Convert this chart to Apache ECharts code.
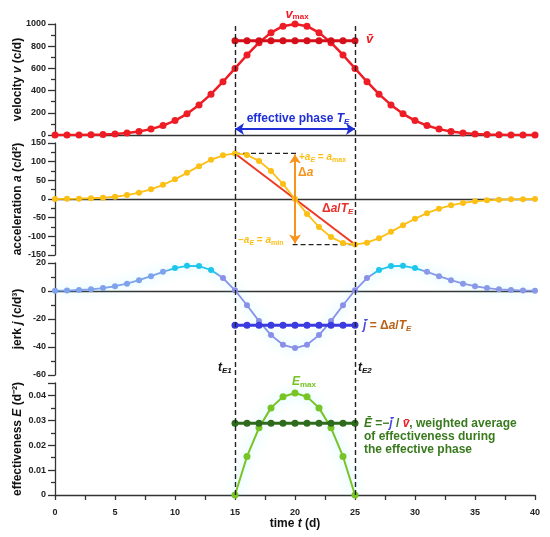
<!DOCTYPE html>
<html>
<head>
<meta charset="utf-8">
<script src="https://cdn.jsdelivr.net/npm/echarts@6/dist/echarts.min.js"></script>
<style>
  html, body { margin: 0; padding: 0; background: #fff; }
  #chart { width: 550px; height: 537px; }
</style>
</head>
<body>
<div id="chart"></div>
<script>
var days = [];
for (var d = 0; d <= 40; d++) days.push(d);

var velocity = [0, 1, 1, 3, 5, 10, 18, 32, 53, 85, 130, 191, 271, 368, 480, 600, 721, 832, 922, 980, 1000,
  980, 922, 832, 721, 600, 480, 368, 271, 191, 130, 85, 53, 32, 18, 10, 5, 3, 1, 1, 0];
var acceleration = [0, 0.5, 1, 2, 3.5, 6, 10.5, 17, 26, 38, 53, 70, 88, 105, 117, 122, 118, 102, 75, 40, 0,
  -40, -75, -102, -118, -122, -117, -105, -88, -70, -53, -38, -26, -17, -10.5, -6, -3.5, -2, -1, -0.5, 0];
var jerk = [0.2, 0.3, 0.7, 1.2, 2.1, 3.4, 5.2, 7.7, 10.6, 13.7, 16.4, 18, 17.8, 15, 9.2, 0.5, -10.2, -21.5, -31.5, -38.4, -40.8,
  -38.4, -31.5, -21.5, -10.2, 0.5, 9.2, 15, 17.8, 18, 16.4, 13.7, 10.6, 7.7, 5.2, 3.4, 2.1, 1.2, 0.7, 0.3, 0.2];
var phaseDays = [15, 16, 17, 18, 19, 20, 21, 22, 23, 24, 25];
var effectiveness = [0, 0.0155, 0.027, 0.035, 0.0395, 0.041, 0.0395, 0.035, 0.027, 0.0155, 0];
var vMean = 850;
var jMean = -24.5;
var eMean = 0.0288;
var aMax = 122;
var aMin = -122;
var phaseStart = 15;
var phaseEnd = 25;

var FONT = "'Liberation Sans', Arial, sans-serif";

function pairs(xs, ys) {
  return xs.map(function (x, i) { return [x, ys[i]]; });
}
function flat(xs, v) {
  return xs.map(function (x) { return [x, v]; });
}

var grids = [
  { left: 55, right: 15, top: 24, height: 111 },
  { left: 55, right: 15, top: 143, height: 112 },
  { left: 55, right: 15, top: 263, height: 112 },
  { left: 55, right: 15, top: 383, height: 112 },
  { left: 55, right: 15, top: 24, height: 471 }
];

var nameStyle = {
  fontSize: 12, fontWeight: "bold", color: "#111", fontFamily: FONT,
  rich: { i: { fontSize: 12, fontWeight: "bold", fontStyle: "italic", color: "#111", fontFamily: FONT } }
};

function xAxisFor(i, full) {
  return {
    type: "value", gridIndex: i, min: 0, max: 40, interval: 5,
    axisLine: { show: i < 4, onZero: true, lineStyle: { color: "#333", width: 1.3 } },
    axisTick: { show: full, length: 5, lineStyle: { color: "#333", width: 1.3 } },
    minorTick: { show: full, splitNumber: 2, length: 5, lineStyle: { color: "#333", width: 1.3 } },
    axisLabel: { show: full, fontSize: 9, fontWeight: "bold", color: "#222", fontFamily: FONT, margin: 13 },
    splitLine: { show: false },
    name: full ? "time {i|t} (d)" : "",
    nameLocation: "middle", nameGap: 23, nameMoveOverlap: false,
    nameTextStyle: nameStyle
  };
}

function yAxisFor(i, min, max, interval, name) {
  return {
    type: "value", gridIndex: i, min: min, max: max, interval: interval,
    axisLine: { show: true, onZero: false, lineStyle: { color: "#333", width: 1.3 } },
    axisTick: { show: true, length: 7, lineStyle: { color: "#333", width: 1.3 } },
    minorTick: { show: true, splitNumber: 2, length: 4, lineStyle: { color: "#333", width: 1.3 } },
    axisLabel: {
      fontSize: 9, fontWeight: "bold", color: "#222", fontFamily: FONT, margin: 9,
      formatter: function (v) {
        if (Math.abs(v / interval - Math.round(v / interval)) > 1e-6) return "";
        return String(Math.round(v * 1000) / 1000);
      }
    },
    splitLine: { show: false },
    name: name, nameLocation: "middle", nameGap: 31, nameRotate: 90, nameMoveOverlap: false,
    nameTextStyle: nameStyle
  };
}

function dots(name, x, y, data, color, size, width, extra) {
  var s = {
    name: name, type: "line", xAxisIndex: x, yAxisIndex: y, data: data,
    symbol: "circle", symbolSize: size, showSymbol: true,
    lineStyle: { color: color, width: width },
    itemStyle: { color: color },
    emphasis: { disabled: true }, silent: true
  };
  for (var k in extra) s[k] = extra[k];
  return s;
}

var glow = "rgba(90,235,255,0.6)";

var series = [
  dots("velocity", 0, 0, pairs(days, velocity), "#ee1c25", 7, 2.5, {
    markLine: {
      silent: true, symbol: ["arrow", "arrow"], symbolSize: 9,
      label: { show: false },
      lineStyle: { color: "#1f2fd6", width: 2, type: "solid" },
      data: [[{ coord: [phaseStart, 55] }, { coord: [phaseEnd, 55] }]]
    }
  }),
  dots("vMean", 0, 0, flat(phaseDays, vMean), "#d40f1a", 7, 3),

  dots("slope", 1, 1, [[phaseStart, aMax], [phaseEnd, aMin]], "#ee3a24", 0, 2, {
    symbol: "none",
    markLine: {
      silent: true, symbol: ["arrow", "arrow"], symbolSize: 9,
      label: { show: false },
      lineStyle: { color: "#f7941d", width: 2, type: "solid" },
      data: [[{ coord: [20, 119] }, { coord: [20, -119] }]]
    }
  }),
  dots("aTop", 1, 1, [[phaseStart, aMax], [20.2, aMax]], "#222", 0, 1.3, { symbol: "none", lineStyle: { color: "#222", width: 1.3, type: [5, 3] } }),
  dots("aBottom", 1, 1, [[19.8, aMin], [phaseEnd, aMin]], "#222", 0, 1.3, { symbol: "none", lineStyle: { color: "#222", width: 1.3, type: [5, 3] } }),
  dots("acceleration", 1, 1, pairs(days, acceleration), "#fbbf16", 6, 1.8),

  dots("jerk", 2, 2, pairs(days, jerk), "#8a90e8", 6, 1.8, {
    lineStyle: { width: 1.8, shadowColor: glow, shadowBlur: 12 }
  }),
  dots("jMean", 2, 2, flat(phaseDays, jMean), "#3b3be0", 7, 3),

  dots("effectiveness", 3, 3, pairs(phaseDays, effectiveness), "#78c427", 7, 2, {
    lineStyle: { color: "#78c427", width: 2, shadowColor: glow, shadowBlur: 12 }
  }),
  dots("eMean", 3, 3, flat(phaseDays, eMean), "#2f6b1d", 7, 3),

  {
    type: "line", xAxisIndex: 4, yAxisIndex: 4, data: [], z: 5, silent: true,
    markLine: {
      silent: true, symbol: "none", label: { show: false },
      lineStyle: { color: "#222", width: 1.4, type: [5, 3] },
      data: [{ xAxis: phaseStart }, { xAxis: phaseEnd }]
    }
  }
];

var chart = echarts.init(document.getElementById("chart"));

function txt(x, y, text, rich, align) {
  return {
    type: "text", x: x, y: y, silent: true, z: 10,
    style: { text: text, rich: rich, align: align || "left", verticalAlign: "middle", font: "bold 12px " + FONT }
  };
}
function st(color, size, italic, vAlign) {
  var o = { fill: color, fontSize: size, fontWeight: "bold", fontFamily: FONT, fontStyle: italic ? "italic" : "normal", lineHeight: 14 };
  if (vAlign) o.verticalAlign = vAlign;
  return o;
}

var red = "#ee1c25", yel = "#fbbf16", org = "#f7941d", grn = "#3a7a1e", lgrn = "#78c427", blue = "#1f2fd6";

var graphics = [
  txt(297, 14, "{i|v}{s|max}", { i: st(red, 13, true), s: st(red, 8, false, "bottom") }, "center"),
  txt(366, 39, "{i|v\u0304}", { i: st(red, 13, true) }),
  txt(298, 119, "{n|effective phase }{i|T}{s|E}", { n: st(blue, 12), i: st(blue, 12, true), s: st(blue, 8, true, "bottom") }, "center"),
  txt(299, 157, "{n|+}{i|a}{s|E}{n| = }{i|a}{t|max}", { n: st(yel, 10), i: st(yel, 10, true), s: st(yel, 7, true, "bottom"), t: st(yel, 7, false, "bottom") }),
  txt(298, 173, "{n|\u0394}{i|a}", { n: st(org, 12), i: st(org, 12, true) }),
  txt(322, 209, "{n|\u0394}{i|a}{n|/}{i|T}{s|E}", { n: st("#e8302a", 12), i: st("#e8302a", 12, true), s: st("#e8302a", 8, true, "bottom") }),
  txt(238, 240, "{n|\u2212}{i|a}{s|E}{n| = }{i|a}{t|min}", { n: st(yel, 10), i: st(yel, 10, true), s: st(yel, 7, true, "bottom"), t: st(yel, 7, false, "bottom") }),
  txt(218, 368, "{i|t}{s|E1}", { i: st("#111", 12, true), s: st("#111", 8, true, "bottom") }),
  txt(358, 368, "{i|t}{s|E2}", { i: st("#111", 12, true), s: st("#111", 8, true, "bottom") }),
  txt(363, 326, "{b|j\u0304}{o| = \u0394}{oi|a}{o|/}{oi|T}{s|E}", { b: st("#4a4ae0", 12, true), o: st("#b8621a", 12), oi: st("#b8621a", 12, true), s: st("#b8621a", 8, true, "bottom") }),
  txt(304, 382, "{i|E}{s|max}", { i: st(lgrn, 12, true), s: st(lgrn, 8, false, "bottom") }, "center"),
  txt(364, 424, "{i|\u0112}{n| =\u2212}{b|j\u0304}{n| / }{r|v\u0304}{n|, weighted average}", { i: st(grn, 12, true), n: st(grn, 12), b: st("#4a4ae0", 12, true), r: st(red, 12, true) }),
  txt(364, 437, "{n|of effectiveness during}", { n: st(grn, 12) }),
  txt(364, 450, "{n|the effective phase}", { n: st(grn, 12) })
];

chart.setOption({
  animation: false,
  backgroundColor: "#fff",
  grid: grids,
  xAxis: [xAxisFor(0, false), xAxisFor(1, false), xAxisFor(2, false), xAxisFor(3, true), xAxisFor(4, false)],
  yAxis: [
    yAxisFor(0, 0, 1000, 200, "velocity {i|v} (c/d)"),
    yAxisFor(1, -150, 150, 50, "acceleration {i|a} (c/d\u00B2)"),
    yAxisFor(2, -60, 20, 20, "jerk {i|j} (c/d\u00B3)"),
    yAxisFor(3, 0, 0.045, 0.01, "effectiveness {i|E} (d\u207B\u00B2)"),
    { type: "value", gridIndex: 4, min: 0, max: 1, show: false }
  ],
  visualMap: [{
    type: "piecewise", show: false, seriesIndex: 6, dimension: 0,
    pieces: [
      { lt: 9.5, color: "#7ea2ec" },
      { gte: 9.5, lt: 13.5, color: "#1ec6ec" },
      { gte: 13.5, lt: 26.5, color: "#8a90e8" },
      { gte: 26.5, lt: 30.5, color: "#1ec6ec" },
      { gte: 30.5, color: "#8a98e8" }
    ]
  }],
  series: series,
  graphic: graphics
});
</script>
</body>
</html>
